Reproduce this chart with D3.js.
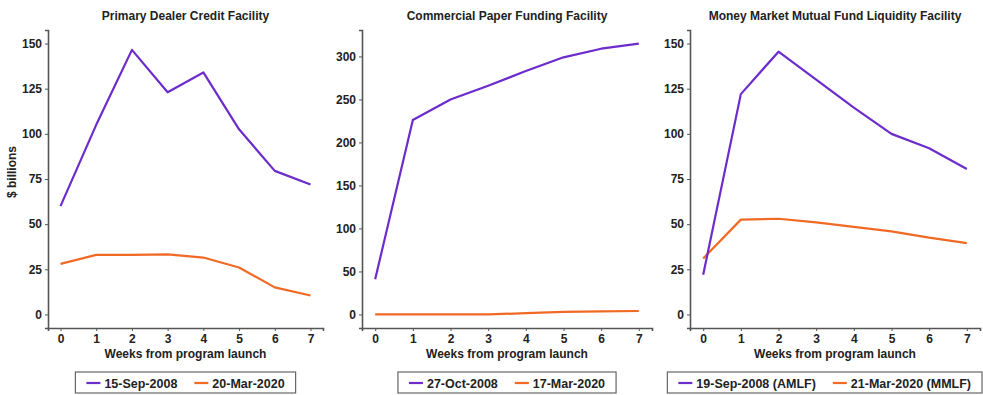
<!DOCTYPE html>
<html lang="en">
<head>
<meta charset="utf-8">
<title>Fed facilities</title>
<script src="https://cdnjs.cloudflare.com/ajax/libs/d3/7.8.5/d3.min.js"></script>
<style>
  body { margin: 0; background: #fff; }
  text { font-family: "Liberation Sans", Arial, sans-serif; font-weight: bold; }
</style>
</head>
<body>
<script>
var weeks = [0, 1, 2, 3, 4, 5, 6, 7];

var titles = ["Primary Dealer Credit Facility", "Commercial Paper Funding Facility", "Money Market Mutual Fund Liquidity Facility"];
var legend2008 = ["15-Sep-2008", "27-Oct-2008", "19-Sep-2008 (AMLF)"];
var legend2020 = ["20-Mar-2020", "17-Mar-2020", "21-Mar-2020 (MMLF)"];

var pdcf2008 = [60, 105, 146.5, 123, 134, 102.5, 79.5, 72];
var pdcf2020 = [28, 33, 33, 33.3, 31.5, 26, 15, 10.5];
var cpff2008 = [41, 226, 250, 266, 283, 299, 309, 315];
var cpff2020 = [0, 0, 0, 0, 1.5, 3, 3.5, 4];
var mmlf2008 = [22, 122, 145.5, 130, 114.5, 100, 92, 80.5];
var mmlf2020 = [31, 52.5, 53, 51, 48.5, 46, 42.5, 39.5];

var yTicks = [[0, 25, 50, 75, 100, 125, 150], [0, 50, 100, 150, 200, 250, 300], [0, 25, 50, 75, 100, 125, 150]];
var yMax = [150, 315, 150];

var series2008 = [pdcf2008, cpff2008, mmlf2008];
var series2020 = [pdcf2020, cpff2020, mmlf2020];

var w = 983, h = 395;
var purple = "#6c2ccc", orange = "#f06a26", axisColor = "#555";
var panels = [{left: 48, right: 323}, {left: 362, right: 652}, {left: 690, right: 980}];
var plotTop = 30, plotBottom = 328;

var svg = d3.select("body").append("svg").attr("width", w).attr("height", h);

panels.forEach(function(p, i) {
  var xe = 7 * 0.05;
  var x = d3.scaleLinear().domain([0 - xe, 7 + xe]).range([p.left, p.right]);
  var ye = yMax[i] * 0.05;
  var y = d3.scaleLinear().domain([0 - ye, yMax[i] + ye]).range([plotBottom, plotTop]);
  var g = svg.append("g");

  var mid = (p.left + p.right) / 2;
  g.append("text").attr("x", mid).attr("y", 20).attr("text-anchor", "middle")
    .attr("font-size", "12px").attr("fill", "#222").text(titles[i]);

  var yAxis = g.append("g").attr("transform", "translate(" + p.left + ",0)")
    .call(d3.axisLeft(y).tickValues(yTicks[i]).tickSize(3).tickPadding(3));
  var xAxis = g.append("g").attr("transform", "translate(0," + plotBottom + ")")
    .call(d3.axisBottom(x).tickValues(weeks).tickSize(3).tickPadding(3));
  [yAxis, xAxis].forEach(function(a) {
    a.select(".domain").attr("stroke", axisColor).attr("stroke-width", 1.6);
    a.selectAll(".tick line").attr("stroke", axisColor).attr("stroke-width", 1);
    a.selectAll(".tick text").attr("font-size", "12px").attr("fill", "#222")
      .attr("font-family", "Liberation Sans, Arial, sans-serif").attr("font-weight", "bold");
  });

  g.append("text").attr("x", mid).attr("y", 358).attr("text-anchor", "middle")
    .attr("font-size", "12px").attr("fill", "#222").text("Weeks from program launch");

  if (i === 0) {
    g.append("text").attr("transform", "translate(16,172) rotate(-90)")
      .attr("text-anchor", "middle").attr("font-size", "12px").attr("fill", "#222").text("$ billions");
  }

  var line = d3.line().x(function(d, k) { return x(weeks[k]); }).y(function(d) { return y(d); });
  g.append("path").datum(series2020[i]).attr("d", line).attr("fill", "none")
    .attr("stroke", orange).attr("stroke-width", 2.2).attr("stroke-linejoin", "round");
  g.append("path").datum(series2008[i]).attr("d", line).attr("fill", "none")
    .attr("stroke", purple).attr("stroke-width", 2.2).attr("stroke-linejoin", "round");

  // legend
  var lg = g.append("g");
  var items = [{label: legend2008[i], color: purple}, {label: legend2020[i], color: orange}];
  var cx = 11;
  items.forEach(function(it, k) {
    lg.append("line").attr("x1", cx).attr("x2", cx + 14).attr("y1", 383).attr("y2", 383)
      .attr("stroke", it.color).attr("stroke-width", 2.2);
    var t = lg.append("text").attr("x", cx + 18).attr("y", 387.5).attr("font-size", "12.5px")
      .attr("fill", "#222").text(it.label);
    cx += 18 + t.node().getComputedTextLength() + 17;
  });
  var lw = cx - 17 + 11;
  lg.insert("rect", ":first-child").attr("x", 0).attr("y", 372).attr("width", lw).attr("height", 21)
    .attr("fill", "#fff").attr("stroke", "#666").attr("stroke-width", 1.2);
  lg.attr("transform", "translate(" + Math.min(mid - lw / 2, w - lw - 1) + ",0)");
});
</script>
</body>
</html>
